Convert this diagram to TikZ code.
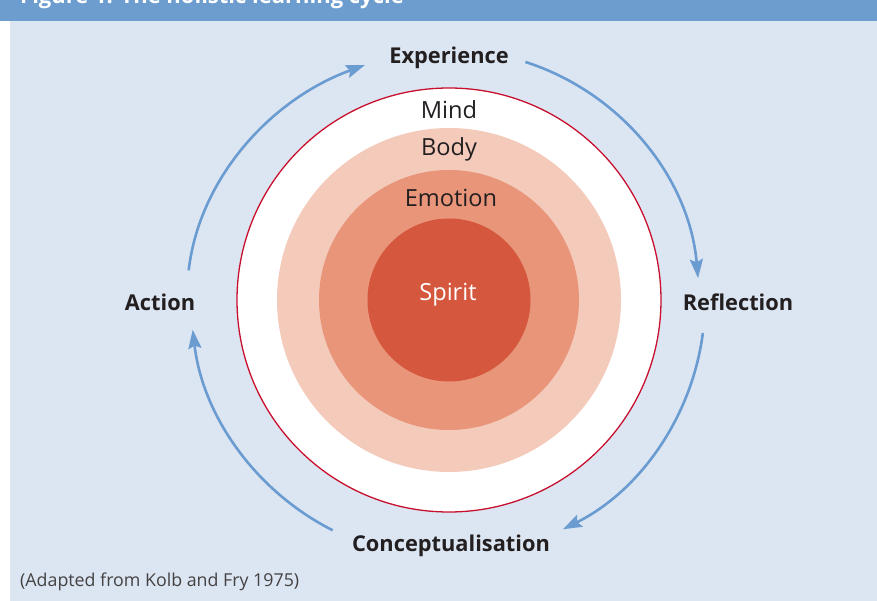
\documentclass[tikz,border=0pt]{standalone}
\usepackage{fontspec}
\setmainfont{Open Sans}
\usetikzlibrary{arrows.meta}
\definecolor{hdr}{HTML}{6D9DCF}
\definecolor{panel}{HTML}{DCE6F2}
\definecolor{ringred}{HTML}{C8102E}
\definecolor{bodyc}{HTML}{F4CBBB}
\definecolor{emoc}{HTML}{E8957A}
\definecolor{spic}{HTML}{D4573E}
\definecolor{arrc}{HTML}{6A9BD1}
\definecolor{txt}{HTML}{231F20}
\tikzset{
  cyc/.style={draw=arrc, line width=2.6pt, -{Stealth[length=19pt,width=13pt,inset=3pt]}},
  stage/.style={font=\fontsize{21.8}{25}\selectfont\bfseries, text=txt, inner sep=0pt},
  layer/.style={font=\fontsize{23.6}{26}\selectfont, text=txt, inner sep=0pt},
}
\begin{document}
\begin{tikzpicture}[x=1pt,y=1pt]
\useasboundingbox (-449,-301) rectangle (428,300);
\fill[white] (-449,-301) rectangle (428,300);
\fill[panel] (-439,-301) rectangle (428,279);
\begin{scope}
\clip (-449,279) rectangle (428,300);
\fill[hdr] (-449,279) rectangle (428,300);
\node[anchor=base west, inner sep=0pt, text=white, font=\fontsize{22}{25}\selectfont\bfseries] (title) at (-429,296.5) {Figure 1: The holistic learning cycle};
\end{scope}
% circles
\fill[white] (0,0) circle (212);
\draw[ringred, line width=1.3pt] (0,0) circle (212);
\fill[bodyc] (0,0) circle (172);
\fill[emoc] (0,0) circle (130);
\fill[spic] (0,0) circle (81.5);
% layer labels
\node[layer] (mind) at (0,190) {Mind};
\node[layer] (body) at (0,151) {Body};
\node[layer] (emotion) at (2,102) {Emotion};
\node[layer, text=white] (spirit) at (-1,5) {Spirit};
% stage labels
\node[stage] (exp) at (0,242) {Experience};
\node[stage] (refl) at (289,-2) {Reflection};
\node[stage] (conc) at (2,-245.5) {Conceptualisation};
\node[stage] (act) at (-289,-2) {Action};
% cycle arrows
\coordinate (a1) at (173.5:262);
\coordinate (a1e) at (-84,235);
\coordinate (a2) at (72.2:250);
\coordinate (a3) at (-7.4:256);
\coordinate (a4) at (-116.8:258);
\draw[cyc] (a1) .. controls (-250,120) and (-180,200) .. (a1e);
\draw[cyc] (a2) arc[start angle=72.2, end angle=5, radius=250];
\draw[cyc] (a3) arc[start angle=-7.4, end angle=-63.6, radius=256];
\draw[cyc] (a4) arc[start angle=-116.8, end angle=-173.4, radius=258];
% caption
\node[anchor=base west, inner sep=0pt, text=txt!85, font=\fontsize{17.8}{21}\selectfont] (cap) at (-429,-286) {(Adapted from Kolb and Fry 1975)};
\end{tikzpicture}
\end{document}
